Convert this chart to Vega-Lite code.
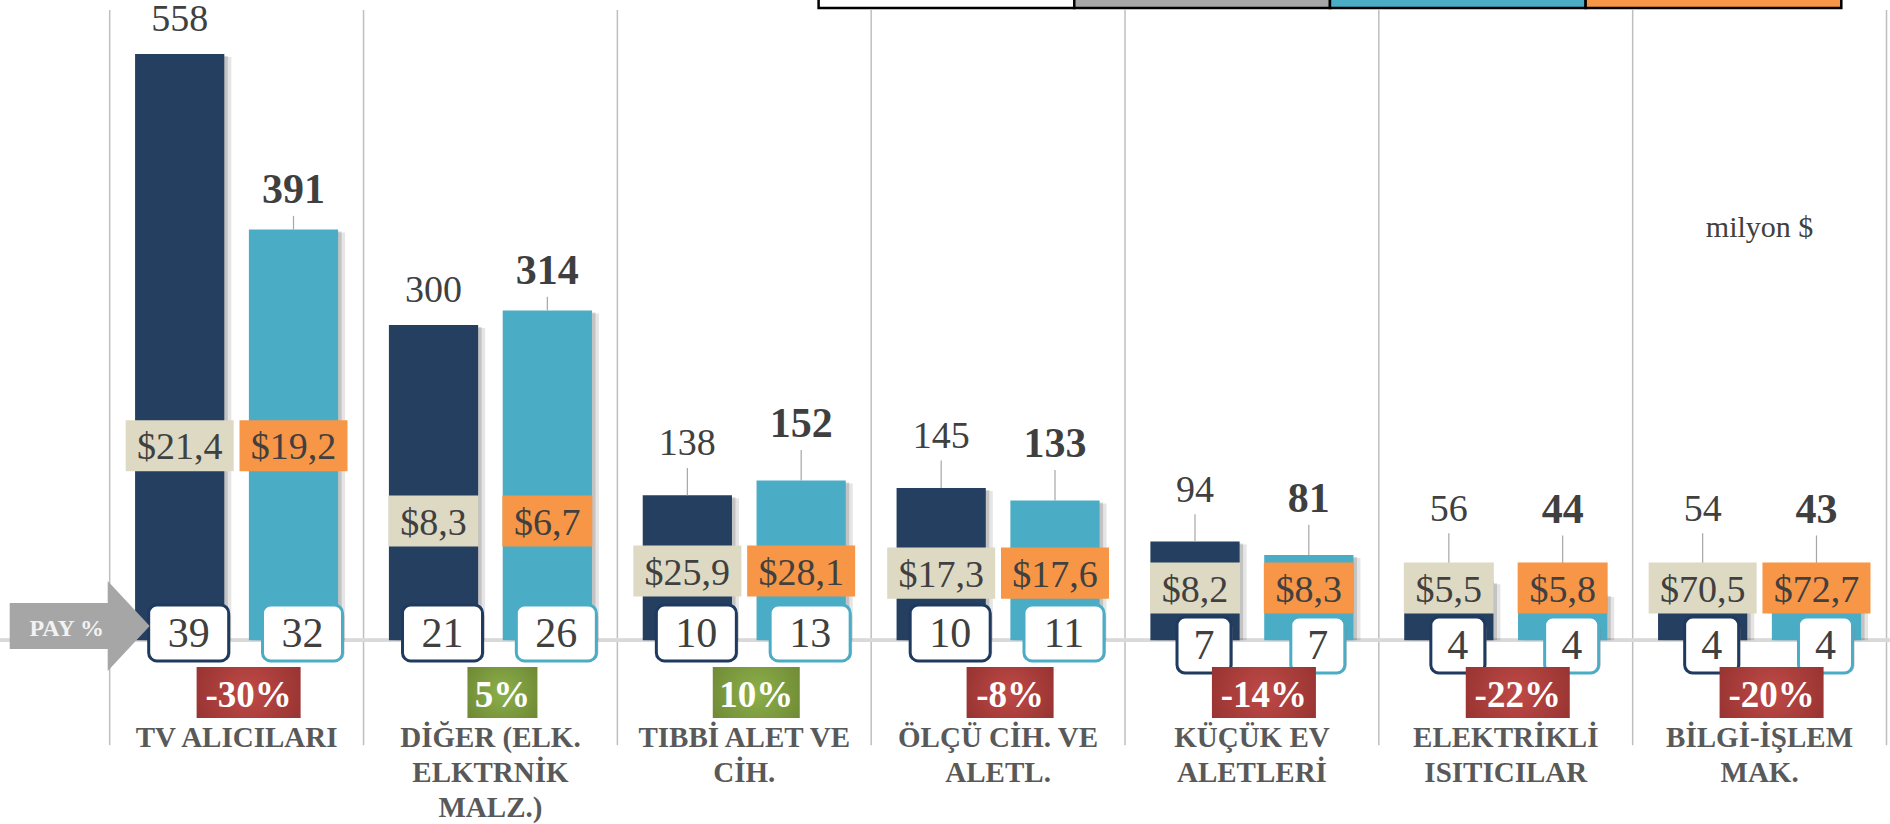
{
  "$schema": "https://vega.github.io/schema/vega-lite/v6.json",
  "width": 1890,
  "height": 824,
  "autosize": {"type": "none"},
  "padding": 0,
  "background": "#ffffff",
  "config": {
    "view": {"stroke": null},
    "font": "Liberation Serif",
    "text": {"font": "Liberation Serif"},
    "axis": {"disable": true},
    "legend": {"disable": true}
  },
  "datasets": {
    "ihracat": [
      {"kategori": "TV ALICILARI", "yil": "2011", "deger": 558, "pay": 39, "fiyat": 21.4},
      {"kategori": "TV ALICILARI", "yil": "2012", "deger": 391, "pay": 32, "fiyat": 19.2},
      {"kategori": "DİĞER (ELK.\nELKTRNİK\nMALZ.)", "yil": "2011", "deger": 300, "pay": 21, "fiyat": 8.3},
      {"kategori": "DİĞER (ELK.\nELKTRNİK\nMALZ.)", "yil": "2012", "deger": 314, "pay": 26, "fiyat": 6.7},
      {"kategori": "TIBBİ ALET VE\nCİH.", "yil": "2011", "deger": 138, "pay": 10, "fiyat": 25.9},
      {"kategori": "TIBBİ ALET VE\nCİH.", "yil": "2012", "deger": 152, "pay": 13, "fiyat": 28.1},
      {"kategori": "ÖLÇÜ CİH. VE\nALETL.", "yil": "2011", "deger": 145, "pay": 10, "fiyat": 17.3},
      {"kategori": "ÖLÇÜ CİH. VE\nALETL.", "yil": "2012", "deger": 133, "pay": 11, "fiyat": 17.6},
      {"kategori": "KÜÇÜK EV\nALETLERİ", "yil": "2011", "deger": 94, "pay": 7, "fiyat": 8.2},
      {"kategori": "KÜÇÜK EV\nALETLERİ", "yil": "2012", "deger": 81, "pay": 7, "fiyat": 8.3},
      {"kategori": "ELEKTRİKLİ\nISITICILAR", "yil": "2011", "deger": 56, "pay": 4, "fiyat": 5.5},
      {"kategori": "ELEKTRİKLİ\nISITICILAR", "yil": "2012", "deger": 44, "pay": 4, "fiyat": 5.8},
      {"kategori": "BİLGİ-İŞLEM\nMAK.", "yil": "2011", "deger": 54, "pay": 4, "fiyat": 70.5},
      {"kategori": "BİLGİ-İŞLEM\nMAK.", "yil": "2012", "deger": 43, "pay": 4, "fiyat": 72.7}
    ],
    "kategoriler": [
      {"kategori": "TV ALICILARI", "degisim": -30},
      {"kategori": "DİĞER (ELK.\nELKTRNİK\nMALZ.)", "degisim": 5},
      {"kategori": "TIBBİ ALET VE\nCİH.", "degisim": 10},
      {"kategori": "ÖLÇÜ CİH. VE\nALETL.", "degisim": -8},
      {"kategori": "KÜÇÜK EV\nALETLERİ", "degisim": -14},
      {"kategori": "ELEKTRİKLİ\nISITICILAR", "degisim": -22},
      {"kategori": "BİLGİ-İŞLEM\nMAK.", "degisim": -20}
    ],
    "anahtarlar": [
      {"anahtar": "PAY %"},
      {"anahtar": "DEĞİŞİM"},
      {"anahtar": "2012"},
      {"anahtar": "BİRİM FİYAT"}
    ]
  },
  "layer": [
    {
      "layer": [
        {
          "data": {"name": "kategoriler"},
          "mark": {"type": "rule", "color": "#bfbfbf", "strokeWidth": 1.5},
          "encoding": {
            "x": {"field": "kategori", "type": "nominal", "sort": null, "bandPosition": 0, "scale": {"range": [109.7, 1886.5], "paddingInner": 0, "paddingOuter": 0}, "axis": null},
            "y": {"datum": 600, "type": "quantitative", "scale": {"domain": [-175, 609.5], "nice": false, "zero": false}, "axis": null},
            "y2": {"datum": -100}
          }
        },
        {
          "data": {"name": "kategoriler"},
          "transform": [{"filter": "indexof(datum.kategori, 'BİLGİ') == 0"}],
          "mark": {"type": "rule", "color": "#bfbfbf", "strokeWidth": 1.5},
          "encoding": {
            "x": {"field": "kategori", "type": "nominal", "sort": null, "bandPosition": 1},
            "y": {"datum": 600, "type": "quantitative"},
            "y2": {"datum": -100}
          }
        },
        {
          "data": {"name": "kategoriler"},
          "mark": {"type": "rule", "color": "#d9d9d9", "strokeWidth": 3},
          "encoding": {"y": {"datum": 0, "type": "quantitative"}}
        },
        {
          "data": {"name": "ihracat"},
          "transform": [
            {"joinaggregate": [{"op": "max", "field": "deger", "as": "enBuyuk"}], "groupby": ["kategori"]},
            {"calculate": "max(49.7, 0.2935 * datum.enBuyuk + 21.3)", "as": "fiyatMerkez"},
            {"calculate": "datum.fiyatMerkez + 24.3", "as": "fiyatUst"},
            {"calculate": "datum.fiyatMerkez - 24.3", "as": "fiyatAlt"},
            {"calculate": "datum.fiyatMerkez - 12.9", "as": "fiyatTaban"},
            {"calculate": "'$' + replace(format(datum.fiyat, '.1f'), '.', ',')", "as": "fiyatYazi"},
            {"calculate": "length(datum.fiyatYazi)", "as": "fiyatUzunluk"},
            {"calculate": "(datum.deger - datum.fiyatUst < 80) ? 16 : 0", "as": "ekAralik"},
            {"calculate": "datum.yil == '2011' ? max(datum.deger + 22 + datum.ekAralik, datum.fiyatMerkez + 64) : max(datum.deger + 25 + datum.ekAralik, datum.fiyatMerkez + 62)", "as": "etiketTaban"},
            {"calculate": "datum.etiketTaban - 12", "as": "cizgiUst"},
            {"calculate": "length(toString(datum.pay))", "as": "payUzunluk"},
            {"calculate": "datum.payUzunluk == 1 ? -4.6 : 6.9", "as": "payMerkez"},
            {"calculate": "datum.payMerkez + 26.6", "as": "payUst"},
            {"calculate": "datum.payMerkez - 26.6", "as": "payAlt"},
            {"calculate": "datum.payMerkez - 13.4", "as": "payTaban"}
          ],
          "encoding": {
            "x": {"field": "kategori", "type": "nominal", "sort": null},
            "xOffset": {"field": "yil", "type": "nominal", "sort": null, "scale": {"type": "band", "domain": ["2011", "2012"], "paddingInner": 0.216, "paddingOuter": 0.223, "range": [0, 253.8]}}
          },
          "layer": [
            {
              "mark": {"type": "bar", "color": "#000000", "opacity": 0.1, "yOffset": 3},
              "encoding": {
                "xOffset": {"field": "yil", "type": "nominal", "sort": null, "scale": {"type": "band", "domain": ["2011", "2012"], "paddingInner": 0.216, "paddingOuter": 0.223, "range": [7, 260.8]}},
                "y": {"field": "deger", "type": "quantitative", "stack": null}
              }
            },
            {
              "mark": {"type": "bar", "color": "#000000", "opacity": 0.15, "yOffset": 2},
              "encoding": {
                "xOffset": {"field": "yil", "type": "nominal", "sort": null, "scale": {"type": "band", "domain": ["2011", "2012"], "paddingInner": 0.216, "paddingOuter": 0.223, "range": [3.5, 257.3]}},
                "y": {"field": "deger", "type": "quantitative", "stack": null}
              }
            },
            {
              "mark": {"type": "bar"},
              "encoding": {
                "y": {"field": "deger", "type": "quantitative", "stack": null, "scale": {"domain": [-175, 609.5], "nice": false, "zero": false}},
                "color": {"field": "yil", "type": "nominal", "scale": {"domain": ["2011", "2012"], "range": ["#243f60", "#4bacc6"]}, "legend": null}
              }
            },
            {
              "transform": [{"filter": "datum.cizgiUst - datum.deger > 10"}],
              "mark": {"type": "rule", "color": "#a6a6a6", "strokeWidth": 1.2},
              "encoding": {
                "y": {"field": "deger", "type": "quantitative"},
                "y2": {"field": "cizgiUst"}
              }
            },
            {
              "mark": {"type": "bar"},
              "encoding": {
                "y": {"field": "fiyatUst", "type": "quantitative"},
                "y2": {"field": "fiyatAlt"},
                "size": {"field": "fiyatUzunluk", "type": "quantitative", "scale": {"domain": [4, 5], "range": [90, 108]}, "legend": null},
                "fill": {"field": "yil", "type": "nominal", "scale": {"domain": ["2011", "2012"], "range": ["#ddd9c3", "#f79646"]}, "legend": null}
              }
            },
            {
              "mark": {"type": "text", "fontSize": 38, "color": "#404040", "baseline": "alphabetic", "align": "center"},
              "encoding": {
                "y": {"field": "fiyatTaban", "type": "quantitative"},
                "text": {"field": "fiyatYazi"}
              }
            },
            {
              "transform": [{"filter": "datum.yil == '2011'"}],
              "mark": {"type": "text", "fontSize": 38, "color": "#404040", "baseline": "alphabetic", "align": "center"},
              "encoding": {
                "y": {"field": "etiketTaban", "type": "quantitative"},
                "text": {"field": "deger"}
              }
            },
            {
              "transform": [{"filter": "datum.yil == '2012'"}],
              "mark": {"type": "text", "fontSize": 42, "fontWeight": "bold", "color": "#3f3f3f", "baseline": "alphabetic", "align": "center"},
              "encoding": {
                "y": {"field": "etiketTaban", "type": "quantitative"},
                "text": {"field": "deger"}
              }
            },
            {
              "mark": {"type": "bar", "color": "#7f7f7f", "opacity": 0.45, "cornerRadius": 8, "yOffset": 4},
              "encoding": {
                "xOffset": {"field": "yil", "type": "nominal", "sort": null, "scale": {"type": "band", "domain": ["2011", "2012"], "paddingInner": 0.216, "paddingOuter": 0.223, "range": [11, 264.8]}},
                "y": {"field": "payUst", "type": "quantitative"},
                "y2": {"field": "payAlt"},
                "size": {"field": "payUzunluk", "type": "quantitative", "scale": {"domain": [1, 2], "range": [54, 80]}, "legend": null}
              }
            },
            {
              "mark": {"type": "bar", "fill": "#ffffff", "strokeWidth": 3, "cornerRadius": 8},
              "encoding": {
                "xOffset": {"field": "yil", "type": "nominal", "sort": null, "scale": {"type": "band", "domain": ["2011", "2012"], "paddingInner": 0.216, "paddingOuter": 0.223, "range": [9, 262.8]}},
                "y": {"field": "payUst", "type": "quantitative"},
                "y2": {"field": "payAlt"},
                "size": {"field": "payUzunluk", "type": "quantitative", "scale": {"domain": [1, 2], "range": [54, 80]}, "legend": null},
                "stroke": {"field": "yil", "type": "nominal", "scale": {"domain": ["2011", "2012"], "range": ["#1f3a5f", "#4bacc6"]}, "legend": null}
              }
            },
            {
              "mark": {"type": "text", "fontSize": 42, "color": "#404040", "baseline": "alphabetic", "align": "center"},
              "encoding": {
                "xOffset": {"field": "yil", "type": "nominal", "sort": null, "scale": {"type": "band", "domain": ["2011", "2012"], "paddingInner": 0.216, "paddingOuter": 0.223, "range": [9, 262.8]}},
                "y": {"field": "payTaban", "type": "quantitative"},
                "text": {"field": "pay"}
              }
            }
          ],
          "resolve": {"scale": {"size": "independent", "xOffset": "independent"}}
        },
        {
          "data": {"name": "kategoriler"},
          "transform": [
            {"calculate": "toString(datum.degisim) + '%'", "as": "degisimYazi"},
            {"calculate": "length(datum.degisimYazi)", "as": "degisimUzunluk"}
          ],
          "encoding": {
            "x": {"field": "kategori", "type": "nominal", "sort": null}
          },
          "layer": [
            {
              "mark": {"type": "bar", "xOffset": 12},
              "encoding": {
                "y": {"datum": -25.5, "type": "quantitative"},
                "y2": {"datum": -74.1},
                "size": {"field": "degisimUzunluk", "type": "quantitative", "scale": {"domain": [2, 4], "range": [70, 104]}, "legend": null},
                "color": {
                  "condition": {"test": "datum.degisim < 0", "value": {"gradient": "radial", "x1": 0.5, "y1": 0.5, "r1": 0, "x2": 0.5, "y2": 0.5, "r2": 0.75, "stops": [{"offset": 0, "color": "#bf4a47"}, {"offset": 1, "color": "#8a2c2a"}]}},
                  "value": {"gradient": "radial", "x1": 0.5, "y1": 0.5, "r1": 0, "x2": 0.5, "y2": 0.5, "r2": 0.75, "stops": [{"offset": 0, "color": "#8cb04a"}, {"offset": 1, "color": "#677f2f"}]}
                }
              }
            },
            {
              "mark": {"type": "text", "fontSize": 37, "fontWeight": "bold", "color": "#ffffff", "baseline": "alphabetic", "align": "center", "dx": 12},
              "encoding": {
                "y": {"datum": -63.3, "type": "quantitative"},
                "text": {"field": "degisimYazi"}
              }
            },
            {
              "mark": {"type": "text", "fontSize": 29, "fontWeight": "bold", "color": "#595959", "baseline": "alphabetic", "align": "center", "lineBreak": "\n", "lineHeight": 35},
              "encoding": {
                "y": {"datum": -101.5, "type": "quantitative"},
                "text": {"field": "kategori"}
              }
            }
          ],
          "resolve": {"scale": {"size": "independent"}}
        },
        {
          "data": {"name": "kategoriler"},
          "transform": [{"filter": "datum.kategori == 'TV ALICILARI'"}],
          "encoding": {
            "x": {"field": "kategori", "type": "nominal", "sort": null, "bandPosition": 0}
          },
          "layer": [
            {
              "mark": {"type": "point", "shape": "M-100,-24H-2V-46L40,-1L-2,44V22H-100Z", "size": 4, "filled": true, "color": "#a6a6a6", "opacity": 1, "strokeWidth": 0},
              "encoding": {"y": {"datum": 12.6, "type": "quantitative"}}
            },
            {
              "mark": {"type": "text", "text": "PAY %", "fontSize": 24, "fontWeight": "bold", "color": "#f2f2f2", "baseline": "alphabetic", "align": "center", "dx": -43},
              "encoding": {"y": {"datum": 4.3, "type": "quantitative"}}
            }
          ]
        },
        {
          "data": {"name": "kategoriler"},
          "transform": [{"filter": "indexof(datum.kategori, 'BİLGİ') == 0"}],
          "mark": {"type": "text", "text": "milyon $", "fontSize": 30, "color": "#404040", "baseline": "alphabetic", "align": "center"},
          "encoding": {
            "x": {"field": "kategori", "type": "nominal", "sort": null},
            "y": {"datum": 383.9, "type": "quantitative"}
          }
        }
      ],
      "resolve": {"scale": {"size": "independent"}}
    },
    {
      "data": {"name": "anahtarlar"},
      "mark": {"type": "bar", "stroke": "#000000", "strokeWidth": 2.5},
      "encoding": {
        "x": {"field": "anahtar", "type": "nominal", "sort": null, "scale": {"range": [818.6, 1841.3], "paddingInner": 0, "paddingOuter": 0}, "axis": null},
        "y": {"datum": 601.9, "type": "quantitative"},
        "y2": {"datum": 700},
        "color": {"field": "anahtar", "type": "nominal", "sort": null, "scale": {"domain": ["PAY %", "DEĞİŞİM", "2012", "BİRİM FİYAT"], "range": ["#ffffff", "#a6a6a6", "#4bacc6", "#f79646"]}, "legend": null}
      }
    }
  ],
  "resolve": {"scale": {"x": "independent", "color": "independent", "size": "independent"}}
}
